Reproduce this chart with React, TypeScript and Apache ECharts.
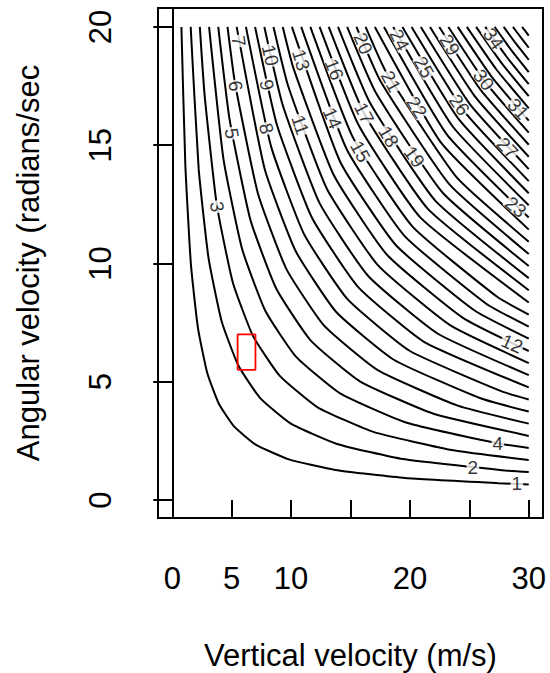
import React, { useEffect, useRef } from "react";
import * as echarts from "echarts";

// Contour levels and their traced polylines [x (m/s), y (rad/s)]
const contourLevels = [
  1, 2, 3, 4, 5, 6, 7, 8, 9, 10, 11, 12, 13, 14, 15, 16, 17, 18, 19, 20,
  21, 22, 23, 24, 25, 26, 27, 28, 29, 30, 31, 32, 33, 34, 35, 36, 37, 38,
];

const c01 = [[0.77, 20], [1.1, 14.16], [1.57, 9.96], [2.16, 7.28], [2.94, 5.38], [3.92, 4.07], [5.22, 3.1], [7.06, 2.33], [9.81, 1.72], [13.73, 1.27], [19.61, 0.93], [27.45, 0.71], [30, 0.66]];
const c02 = [[1.55, 20], [2.22, 14.02], [3.05, 10.24], [4.16, 7.55], [5.55, 5.7], [7.38, 4.32], [9.98, 3.23], [13.87, 2.37], [19.41, 1.73], [27.74, 1.26], [30, 1.18]];
const c03 = [[2.32, 20], [2.72, 17.13], [3.74, 12.5], [5.09, 9.21], [6.79, 6.94], [9.03, 5.26], [12.23, 3.92], [16.98, 2.87], [23.78, 2.09], [30, 1.69]];
const c04 = [[3.1, 20], [4.31, 14.41], [5.88, 10.61], [7.84, 7.99], [10.43, 6.05], [14.12, 4.51], [19.61, 3.29], [27.45, 2.39], [30, 2.2]];
const c05 = [[3.87, 20], [4.82, 16.1], [6.58, 11.84], [8.77, 8.92], [11.66, 6.74], [15.79, 5.02], [21.93, 3.66], [30, 2.71]];
const c06 = [[4.65, 20], [5.28, 17.62], [7.21, 12.96], [9.61, 9.76], [12.78, 7.37], [17.29, 5.49], [24.02, 3.99], [30, 3.23]];
const c07 = [[5.42, 20], [7.78, 13.99], [10.38, 10.53], [13.8, 7.95], [18.68, 5.92], [25.94, 4.3], [30, 3.74]];
const c08 = [[6.2, 20], [8.32, 14.94], [11.09, 11.24], [14.75, 8.49], [19.97, 6.31], [27.73, 4.59], [30, 4.25]];
const c09 = [[6.97, 20], [8.82, 15.84], [11.77, 11.92], [15.65, 9.0], [21.18, 6.69], [30, 4.76]];
const c10 = [[7.75, 20], [9.3, 16.69], [12.4, 12.55], [16.49, 9.47], [22.32, 7.04], [30, 5.28]];
const c11 = [[8.52, 20], [9.76, 17.49], [13.01, 13.16], [17.3, 9.93], [23.41, 7.38], [30, 5.79]];
const c12 = [[9.3, 20], [10.19, 18.27], [13.59, 13.74], [18.07, 10.37], [24.46, 7.7], [30, 6.3]];
const c13 = [[10.07, 20], [14.14, 14.29], [18.81, 10.78], [25.45, 8.01], [30, 6.82]];
const c14 = [[10.85, 20], [14.68, 14.83], [19.52, 11.18], [26.42, 8.3], [30, 7.33]];
const c15 = [[11.62, 20], [15.19, 15.34], [20.2, 11.57], [27.34, 8.59], [30, 7.84]];
const c16 = [[12.4, 20], [15.69, 15.84], [20.87, 11.95], [30, 8.35]];
const c17 = [[13.17, 20], [16.17, 16.32], [21.51, 12.31], [30, 8.87]];
const c18 = [[13.95, 20], [16.64, 16.79], [22.13, 12.66], [30, 9.38]];
const c19 = [[14.72, 20], [17.1, 17.25], [22.74, 13.0], [30, 9.89]];
const c20 = [[15.5, 20], [17.54, 17.69], [23.33, 13.34], [30, 10.4]];
const c21 = [[16.27, 20], [17.97, 18.12], [23.9, 13.66], [30, 10.92]];
const c22 = [[17.05, 20], [22.62, 15.11], [30, 11.43]];
const c23 = [[17.82, 20], [23.12, 15.45], [30, 11.94]];
const c24 = [[18.6, 20], [23.62, 15.78], [30, 12.46]];
const c25 = [[19.37, 20], [24.11, 16.1], [30, 12.97]];
const c26 = [[20.14, 20], [24.59, 16.42], [30, 13.48]];
const c27 = [[20.92, 20], [25.06, 16.73], [30, 13.99]];
const c28 = [[21.69, 20], [25.52, 17.03], [30, 14.51]];
const c29 = [[22.47, 20], [25.97, 17.33], [30, 15.02]];
const c30 = [[23.24, 20], [26.41, 17.62], [30, 15.53]];
const c31 = [[24.02, 20], [26.85, 17.91], [30, 16.04]];
const c32 = [[24.79, 20], [27.28, 18.2], [30, 16.56]];
const c33 = [[25.57, 20], [27.7, 18.48], [30, 17.07]];
const c34 = [[26.34, 20], [28.12, 18.75], [30, 17.58]];
const c35 = [[27.12, 20], [28.53, 19.02], [30, 18.09]];
const c36 = [[27.89, 20], [28.93, 19.29], [30, 18.61]];
const c37 = [[28.67, 20], [29.33, 19.56], [30, 19.12]];
const c38 = [[29.44, 20], [29.72, 19.82], [30, 19.63]];

const contourLines = [
  c01, c02, c03, c04, c05, c06, c07, c08, c09, c10, c11, c12, c13, c14, c15, c16, c17, c18, c19,
  c20, c21, c22, c23, c24, c25, c26, c27, c28, c29, c30, c31, c32, c33, c34, c35, c36, c37, c38,
];

// Contour labels: level, position on the line, text angle
const labelLevels = [1, 2, 3, 4, 5, 6, 7, 8, 9, 10, 11, 12, 13, 14, 15, 16, 17, 18, 19, 20, 21, 22, 23, 24, 25, 26, 27, 29, 30, 31, 34];
const labelPositions = [
  [29.0, 0.68], [25.3, 1.37], [3.76, 12.4], [27.4, 2.4], [5.0, 15.5], [5.32, 17.5], [5.59, 19.4],
  [7.91, 15.7], [7.96, 17.55], [8.25, 18.8], [10.77, 15.86], [28.6, 6.6], [10.84, 18.6], [13.47, 16.14],
  [15.82, 14.73], [13.63, 18.2], [16.14, 16.35], [18.2, 15.36], [20.36, 14.5], [16.06, 19.3], [18.41, 17.69],
  [20.57, 16.6], [28.9, 12.39], [19.13, 19.45], [21.18, 18.3], [24.16, 16.7], [28.2, 14.88], [23.36, 19.24],
  [26.2, 17.76], [29.1, 16.53], [27.02, 19.5],
];
const labelAngles = [0, 0, -81, 0, -81, -81, -82, -76, -77, -77, -71, -24, -73, -67, -61, -69, -63, -59, -54, -67, -62, -58, -40, -63, -60, -54, -46, -58, -53, -48, -55];

// Highlighted region (red box)
const boxCorners = [[5.5, 5.5], [7, 5.5], [7, 7], [5.5, 7], [5.5, 5.5]];

const xTicks = [0, 5, 10, 15, 20, 25, 30];
const xTickLabels = [0, 5, 10, 20, 30];
const yTicks = [0, 5, 10, 15, 20];

const FONT = "'Liberation Sans', Arial, Helvetica, sans-serif";

export default function App() {
  const ref = useRef<HTMLDivElement>(null);
  useEffect(() => {
    if (!ref.current) return;
    const chart = echarts.init(ref.current, null, { renderer: "svg" });
    const lineSeries = contourLines.map((pts, i) => ({
      type: "line",
      name: "level " + contourLevels[i],
      data: pts,
      showSymbol: false,
      symbol: "none",
      silent: true,
      smooth: 0.15,
      z: 2,
      lineStyle: { color: "#000", width: 2 },
    }));
    const labelSeries = {
      type: "scatter",
      silent: true,
      z: 5,
      symbolSize: 1,
      itemStyle: { color: "rgba(255,255,255,0)" },
      data: labelLevels.map((lv, i) => ({
        value: [labelPositions[i][0], labelPositions[i][1], lv],
        label: { rotate: labelAngles[i] },
      })),
      label: {
        show: true,
        position: "inside",
        formatter: (p: any) => String(p.value[2]),
        fontSize: 19,
        fontFamily: FONT,
        color: "#000",
        backgroundColor: "#fff",
        padding: [0, 1],
        lineHeight: 14,
      },
      labelLayout: { hideOverlap: false },
    };
    const boxSeries = {
      type: "line",
      data: boxCorners,
      showSymbol: false,
      symbol: "none",
      silent: true,
      z: 6,
      lineStyle: { color: "#ff0000", width: 1.8 },
    };
    chart.setOption({
      animation: false,
      backgroundColor: "#fff",
      textStyle: { fontFamily: FONT },
      grid: {
        left: 158,
        top: 8,
        width: 385,
        height: 510,
        show: true,
        borderColor: "#000",
        borderWidth: 2,
        backgroundColor: "transparent",
        containLabel: false,
        outerBoundsMode: "none",
      },
      xAxis: {
        type: "value",
        min: -1.2,
        max: 31.2,
        offset: 2,
        axisLine: { show: false },
        splitLine: { show: false },
        axisTick: {
          show: true,
          customValues: xTicks,
          length: 18,
          lineStyle: { color: "#000", width: 2 },
        },
        axisLabel: {
          customValues: xTickLabels,
          fontSize: 31,
          color: "#000",
          margin: 43,
          fontFamily: FONT,
        },
        name: "Vertical velocity (m/s)",
        nameLocation: "middle",
        nameGap: 120,
        nameTextStyle: { fontSize: 31, lineHeight: 31, color: "#000", fontFamily: FONT },
      },
      yAxis: {
        type: "value",
        min: -0.76,
        max: 20.8,
        axisLine: { show: true, lineStyle: { color: "#000", width: 2 } },
        splitLine: { show: false },
        axisTick: {
          show: true,
          customValues: yTicks,
          length: 19,
          lineStyle: { color: "#000", width: 2 },
        },
        axisLabel: {
          customValues: yTicks,
          rotate: 90,
          fontSize: 31,
          color: "#000",
          margin: 42,
          fontFamily: FONT,
        },
        name: "Angular velocity (radians/sec",
        nameLocation: "middle",
        nameRotate: 90,
        nameGap: 114,
        nameTextStyle: { fontSize: 31, color: "#000", fontFamily: FONT },
      },
      series: [...lineSeries, labelSeries, boxSeries],
    });
    return () => chart.dispose();
  }, []);
  return (
    <div
      ref={ref}
      style={{ position: "absolute", left: 0, top: 0, width: 550, height: 673 }}
    />
  );
}
